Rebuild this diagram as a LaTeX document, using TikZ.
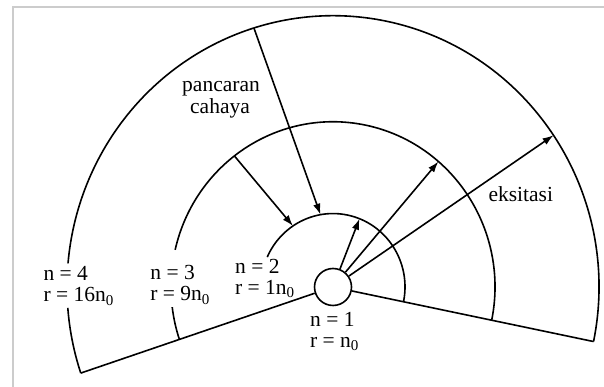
\documentclass[tikz,border=0pt]{standalone}
\usepackage{fontspec}
\setmainfont{Liberation Serif}
\usetikzlibrary{arrows.meta}
\begin{document}
\begin{tikzpicture}[x=1pt,y=1pt,
  orbit/.style={line width=1.6pt, black},
  ray/.style={line width=1.6pt, black, -{Latex[length=11pt,width=7.5pt]}},
  lab/.style={font=\fontsize{21.5}{22}\selectfont, inner sep=0pt, anchor=base west},
  labc/.style={font=\fontsize{21.5}{22}\selectfont, inner sep=0pt, anchor=base},
  frame/.style={line width=2pt, color=black!20}]
\useasboundingbox (0,0) rectangle (604,387);
\draw[frame] (12.7,0) -- (12.7,379.7) -- (604,379.7);
\node[draw, circle, line width=1.6pt, minimum size=37pt, inner sep=0pt] (n1) at (333,100) {};
\begin{scope}[shift={(333,100)}, yscale=1.02]
  \coordinate (L4) at (198.5:266);
  \coordinate (R4) at (-11.6:266);
  \coordinate (a1s) at (107.3:266);
  \coordinate (a1e) at (100:72);
  \coordinate (a2s) at (127.5:162);
  \coordinate (a2e) at (123.8:72);
  \coordinate (a3e) at (68.4:72);
  \coordinate (a4e) at (49.4:162);
  \coordinate (a5e) at (34:266);
  % orbit n = 4
  \draw[orbit] (-11.6:266) arc[start angle=-11.6, end angle=175, radius=266];
  \draw[orbit] (184.4:266) arc[start angle=184.4, end angle=198.5, radius=266];
  % orbit n = 3
  \draw[orbit] (-11.6:162) arc[start angle=-11.6, end angle=167, radius=162];
  \draw[orbit] (187:162) arc[start angle=187, end angle=198.5, radius=162];
  % orbit n = 2
  \draw[orbit] (-11.6:72) arc[start angle=-11.6, end angle=156, radius=72];
\end{scope}
\draw[orbit] (n1) -- (L4);
\draw[orbit] (n1) -- (R4);
% emission
\draw[ray] (a1s) -- (a1e);
\draw[ray] (a2s) -- (a2e);
% excitation
\draw[ray] (n1) -- (a3e);
\draw[ray] (n1) -- (a4e);
\draw[ray] (n1) -- (a5e);
% labels
\node[labc] (tp) at (221,295.3) {pancaran};
\node[labc] (tc) at (220,273) {cahaya};
\node[lab] (te) at (488.3,185.3) {eksitasi};
\node[lab] (n4a) at (43.3,106) {n = 4};
\node[lab] (n4b) at (43.3,85) {r = 16n\textsubscript{0}};
\node[lab] (n3a) at (150.2,107) {n = 3};
\node[lab] (n3b) at (150.2,86) {r = 9n\textsubscript{0}};
\node[lab] (n2a) at (235,113.5) {n = 2};
\node[lab] (n2b) at (235,92.5) {r = 1n\textsubscript{0}};
\node[lab] (n1a) at (310,60) {n = 1};
\node[lab] (n1b) at (310,39.5) {r = n\textsubscript{0}};
\end{tikzpicture}
\end{document}
